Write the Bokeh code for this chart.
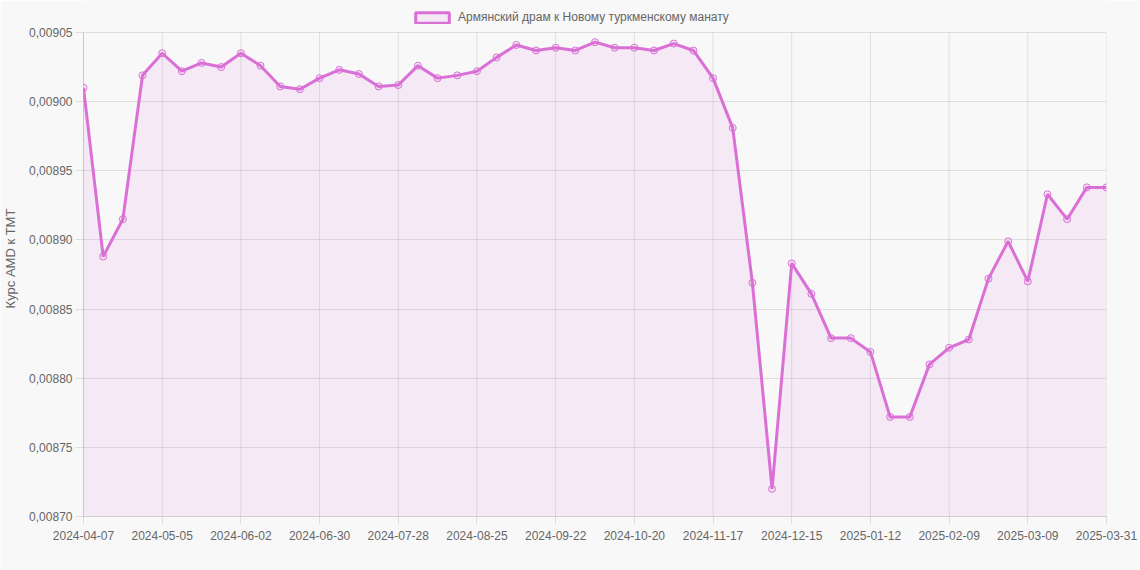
from bokeh.plotting import figure
from bokeh.models import (Range1d, FixedTicker, CustomJSTickFormatter, Legend,
                          LegendItem, ColumnDataSource)
from bokeh.embed import file_html
from bokeh.resources import INLINE

# ---- data ----
dates = [
    "2024-04-07", "2024-04-14", "2024-04-21", "2024-04-28",
    "2024-05-05", "2024-05-12", "2024-05-19", "2024-05-26",
    "2024-06-02", "2024-06-09", "2024-06-16", "2024-06-23", "2024-06-30",
    "2024-07-07", "2024-07-14", "2024-07-21", "2024-07-28",
    "2024-08-04", "2024-08-11", "2024-08-18", "2024-08-25",
    "2024-09-01", "2024-09-08", "2024-09-15", "2024-09-22", "2024-09-29",
    "2024-10-06", "2024-10-13", "2024-10-20", "2024-10-27",
    "2024-11-03", "2024-11-10", "2024-11-17", "2024-11-24",
    "2024-12-01", "2024-12-08", "2024-12-15", "2024-12-22", "2024-12-29",
    "2025-01-05", "2025-01-12", "2025-01-19", "2025-01-26",
    "2025-02-02", "2025-02-09", "2025-02-16", "2025-02-23",
    "2025-03-02", "2025-03-09", "2025-03-16", "2025-03-23", "2025-03-30",
    "2025-03-31",
]
rates = [
    0.009010, 0.008888, 0.008915, 0.009019,
    0.009035, 0.009022, 0.009028, 0.009025,
    0.009035, 0.009026, 0.009011, 0.009009, 0.009017,
    0.009023, 0.009020, 0.009011, 0.009012,
    0.009026, 0.009017, 0.009019, 0.009022,
    0.009032, 0.009041, 0.009037, 0.009039, 0.009037,
    0.009043, 0.009039, 0.009039, 0.009037,
    0.009042, 0.009037, 0.009017, 0.008981,
    0.008869, 0.008720, 0.008883, 0.008861, 0.008829,
    0.008829, 0.008819, 0.008772, 0.008772,
    0.008810, 0.008822, 0.008828, 0.008872,
    0.008899, 0.008870, 0.008933, 0.008915, 0.008938,
    0.008938,
]
x_tick_labels = [
    "2024-04-07", "2024-05-05", "2024-06-02", "2024-06-30", "2024-07-28",
    "2024-08-25", "2024-09-22", "2024-10-20", "2024-11-17", "2024-12-15",
    "2025-01-12", "2025-02-09", "2025-03-09", "2025-03-31",
]
y_ticks = [0.00870, 0.00875, 0.00880, 0.00885, 0.00890, 0.00895, 0.00900, 0.00905]
series_name = "Армянский драм к Новому туркменскому манату"
y_axis_title = "Курс AMD к ТМТ"

# ---- styling / layout ----
LINE = "#da70d6"
BG = "#f8f8f8"
GRID = "#000000"
TXT = "#666666"
FONT = "Liberation Sans"
W, H = 1140, 570
LEFT, RIGHT, BOTTOM = 82, 34, 54
TOP_GAP = 32          # legend strip above the data area (inside the frame)

idx = list(range(len(dates)))
y_min, y_max = y_ticks[0], y_ticks[-1]
plot_h = H - BOTTOM - TOP_GAP
y_top = y_max + (y_max - y_min) * TOP_GAP / plot_h

source = ColumnDataSource(dict(x=idx, y=rates, base=[y_min] * len(idx)))
tick_pos = [dates.index(d) for d in x_tick_labels]

p = figure(width=W, height=H, output_backend="svg", toolbar_location=None,
           x_range=Range1d(0, len(dates) - 1), y_range=Range1d(y_min, y_top),
           min_border_left=LEFT, min_border_right=RIGHT, min_border_top=0,
           min_border_bottom=BOTTOM, background_fill_color=BG, border_fill_color=BG)
p.outline_line_color = None

# vertical grid lines only across the data area
p.segment(x0=tick_pos, y0=[y_min] * len(tick_pos), x1=tick_pos, y1=[y_max] * len(tick_pos),
          line_color=GRID, line_alpha=0.1, line_width=1)

p.varea(x="x", y1="base", y2="y", source=source, fill_color=LINE, fill_alpha=0.1)
p.line(x="x", y="y", source=source, line_color=LINE, line_width=3)
p.scatter(x="x", y="y", source=source, size=7, line_color=LINE, line_width=1,
          fill_color=LINE, fill_alpha=0.1)

# legend glyph (box like Chart.js), renderer itself hidden
box = p.quad(left=[idx[0]], right=[idx[0]], top=[y_min], bottom=[y_min],
             fill_color=LINE, fill_alpha=0.1, line_color=LINE, line_width=3,
             visible=False)
legend = Legend(items=[LegendItem(label=series_name, renderers=[box])],
                orientation="horizontal", location=(328, plot_h + TOP_GAP - 24),
                glyph_width=42, glyph_height=13, label_standoff=5,
                label_text_font=FONT, label_text_font_size="12px",
                label_text_color=TXT, padding=0, margin=0, spacing=0,
                border_line_color=None, background_fill_alpha=0)
p.add_layout(legend, "center")

# axes
p.xaxis.ticker = FixedTicker(ticks=tick_pos)
p.xaxis.major_label_overrides = {i: dates[i] for i in tick_pos}
p.yaxis.ticker = FixedTicker(ticks=y_ticks)
p.yaxis.bounds = (y_min, y_max)
p.yaxis.formatter = CustomJSTickFormatter(code="return tick.toFixed(5).replace('.', ',');")

for ax in (p.xaxis[0], p.yaxis[0]):
    ax.axis_line_color = GRID
    ax.axis_line_alpha = 0.15
    ax.major_tick_line_color = GRID
    ax.major_tick_line_alpha = 0.1
    ax.major_tick_out = 8
    ax.major_tick_in = 0
    ax.minor_tick_line_color = None
    ax.major_label_text_font = FONT
    ax.major_label_text_font_size = "12px"
    ax.major_label_text_color = TXT
    ax.major_label_standoff = 3
p.xaxis.major_label_standoff = 6

p.yaxis.axis_label = y_axis_title
p.yaxis.axis_label_text_font = FONT
p.yaxis.axis_label_text_font_size = "13px"
p.yaxis.axis_label_text_font_style = "normal"
p.yaxis.axis_label_text_color = TXT
p.yaxis.axis_label_standoff = 8

p.xgrid.grid_line_color = None
p.ygrid.grid_line_color = GRID
p.ygrid.grid_line_alpha = 0.1

open("out.html", "w").write(file_html(p, INLINE))
